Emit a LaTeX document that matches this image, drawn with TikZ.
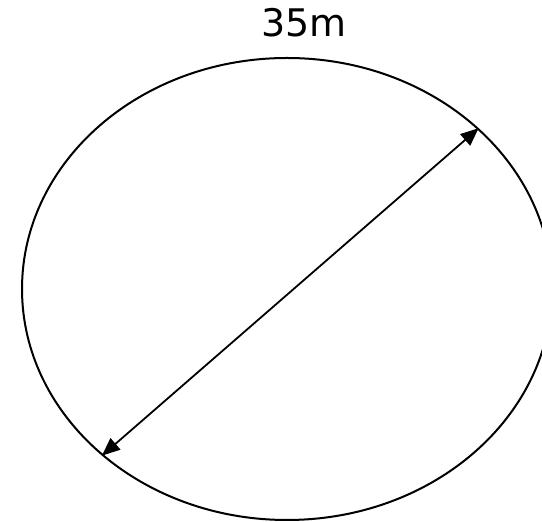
\documentclass[tikz,border=0pt]{standalone}
\usepackage{fontspec}
\setmainfont{DejaVu Sans}
\usetikzlibrary{shapes.geometric, arrows.meta}

\begin{document}
\begin{tikzpicture}[
  x=1pt, y=1pt,
  pool/.style={draw, ellipse, line width=2pt, minimum width=530pt,
               minimum height=462pt, inner sep=0pt},
  dim/.style={{Triangle[length=18pt,width=15pt]}-{Triangle[length=18pt,width=15pt]},
              line width=1.8pt},
  label/.style={font=\fontsize{38}{40}\selectfont, anchor=base},
]
\clip (0,0) rectangle (542,522);
\useasboundingbox (0,0) rectangle (542,522);

% pond outline
\node[pool] (pond) at (287,233) {};

% width label
\node[label] (len) at (304,485) {35m};

% diameter
\draw[dim] (pond.222.9) -- (pond.40.6);

\end{tikzpicture}
\end{document}
